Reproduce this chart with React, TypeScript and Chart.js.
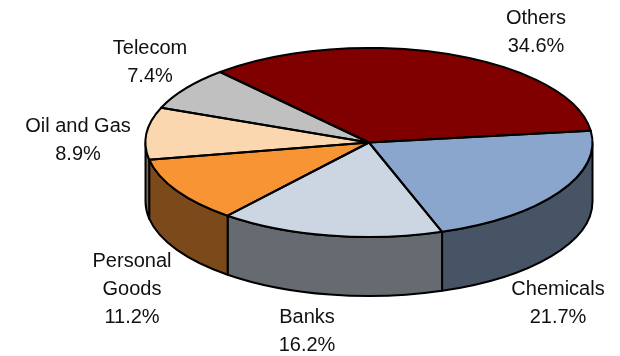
import React, { useEffect, useRef } from "react";
import { Chart, registerables } from "chart.js";

Chart.register(...registerables);

// Sector weights, clockwise from the largest slice
const categories: string[][] = [
  ["Others"],
  ["Chemicals"],
  ["Banks"],
  ["Personal", "Goods"],
  ["Oil and Gas"],
  ["Telecom"],
];
const shares: number[] = [34.6, 21.7, 16.2, 11.2, 8.9, 7.4];
const topColors: string[] = ["#800000", "#8aa6cc", "#ccd6e3", "#f79433", "#fad7ae", "#c0c0c0"];
const wallColors: string[] = ["#400000", "#475466", "#666b72", "#7c4a1a", "#7d6b57", "#606060"];

// Disc placement and tilt
const CENTER_X = 369;
const CENTER_Y = 142.5;
const RADIUS = 223.5;
const TILT = 0.423;
const DEPTH = 59;
const ROTATION = -41.76;

// Centre of each label block, one per category
const labelCenters: [number, number][] = [
  [536, 32],
  [558, 303],
  [307, 331],
  [132, 289],
  [78, 140],
  [150, 62],
];
const LINE_HEIGHT = 28;

const tiltedPie = {
  id: "tiltedPie",
  beforeDatasetsDraw(chart: any) {
    const ctx: CanvasRenderingContext2D = chart.ctx;
    const arcs = chart.getDatasetMeta(0).data;
    const ry = RADIUS * TILT;

    // Side wall: only the part of each sector on the near half of the rim
    ctx.save();
    ctx.lineWidth = 2;
    ctx.strokeStyle = "#000";
    ctx.lineJoin = "round";
    arcs.forEach((arc: any, i: number) => {
      const from = Math.max(arc.startAngle, 0);
      const to = Math.min(arc.endAngle, Math.PI);
      if (to <= from) return;
      ctx.beginPath();
      ctx.ellipse(CENTER_X, CENTER_Y, RADIUS, ry, 0, from, to);
      ctx.ellipse(CENTER_X, CENTER_Y + DEPTH, RADIUS, ry, 0, to, from, true);
      ctx.closePath();
      ctx.fillStyle = wallColors[i];
      ctx.fill();
      ctx.stroke();
    });
    ctx.restore();

    // Flatten the library's round pie into the top face of the disc
    const first = arcs[0];
    ctx.save();
    ctx.translate(CENTER_X, CENTER_Y);
    ctx.scale(1, TILT);
    ctx.translate(-first.x, -first.y);
  },
  afterDatasetsDraw(chart: any) {
    const ctx: CanvasRenderingContext2D = chart.ctx;
    ctx.restore();
    const arcs = chart.getDatasetMeta(0).data;
    const ry = RADIUS * TILT;

    // Outlines stay an even width, so they are stroked after the flattening
    ctx.save();
    ctx.lineWidth = 2;
    ctx.strokeStyle = "#000";
    ctx.lineJoin = "round";
    arcs.forEach((arc: any) => {
      ctx.beginPath();
      ctx.moveTo(CENTER_X, CENTER_Y);
      ctx.ellipse(CENTER_X, CENTER_Y, RADIUS, ry, 0, arc.startAngle, arc.endAngle);
      ctx.closePath();
      ctx.stroke();
    });

    // Category name above its share
    ctx.fillStyle = "#111";
    ctx.font = '20px "Liberation Sans", Arial, sans-serif';
    ctx.textAlign = "center";
    ctx.textBaseline = "middle";
    categories.forEach((lines, i) => {
      const text = [...lines, `${shares[i].toFixed(1)}%`];
      const [x, y] = labelCenters[i];
      const top = y - ((text.length - 1) * LINE_HEIGHT) / 2;
      text.forEach((line, n) => ctx.fillText(line, x, top + n * LINE_HEIGHT));
    });
    ctx.restore();
  },
};

export default function App() {
  const canvasRef = useRef<HTMLCanvasElement>(null);

  useEffect(() => {
    const chart = new Chart(canvasRef.current as HTMLCanvasElement, {
      type: "pie",
      data: {
        labels: categories.map((c) => c.join(" ")),
        datasets: [
          {
            data: shares,
            backgroundColor: topColors,
            borderWidth: 0,
            clip: false,
          } as any,
        ],
      },
      options: {
        responsive: false,
        animation: false,
        radius: RADIUS,
        rotation: ROTATION,
        plugins: { legend: { display: false }, tooltip: { enabled: false } },
      } as any,
      plugins: [tiltedPie],
    });
    return () => chart.destroy();
  }, []);

  return (
    <div style={{ position: "absolute", left: 0, top: 0, width: 620, height: 356, background: "#fff" }}>
      <canvas ref={canvasRef} width={620} height={356} />
    </div>
  );
}
